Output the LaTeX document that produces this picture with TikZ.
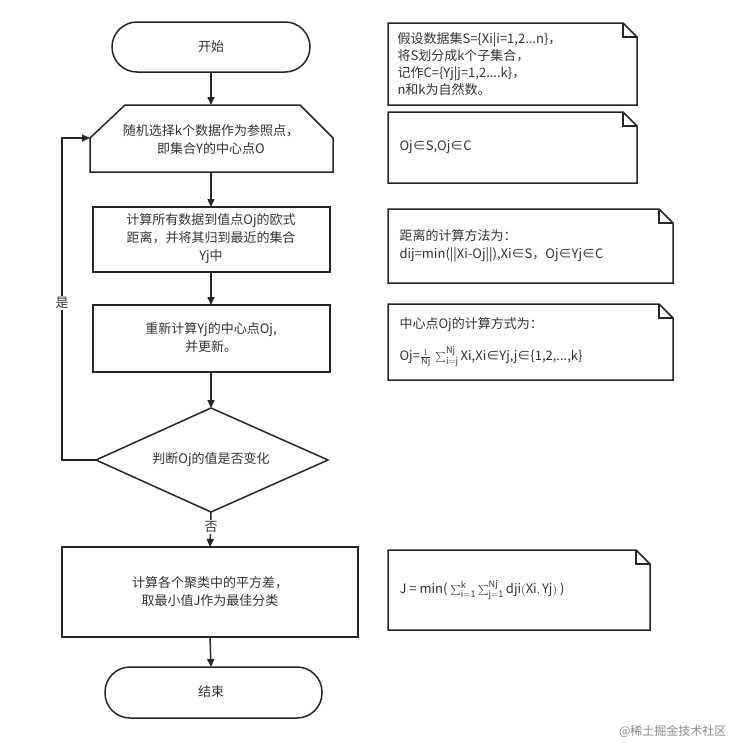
\documentclass[tikz,border=0pt]{standalone}
\usepackage{fontspec}
\setmainfont{Noto Sans CJK SC}
\usetikzlibrary{arrows.meta,calc}
\begin{document}
\begin{tikzpicture}[x=1pt,y=-1pt,
 ln/.style={draw=black!85,line width=1.5pt},
 arr/.style={ln,-{Triangle[length=8pt,width=7pt]}},
 txt/.style={font=\fontsize{13}{18}\selectfont,align=center,text=black!80},
 ntxt/.style={font=\fontsize{13}{18}\selectfont,align=left,anchor=west,text=black!80}]
\useasboundingbox[fill=white] (0,0) rectangle (735,745);
\newcommand\note[5]{% x1 y1 x2 y2 name
 \draw[ln,fill=white] (#1,#2) -- ({#3-14},#2) -- (#3,{#2+14}) -- (#3,#4) -- (#1,#4) -- cycle;
 \draw[ln] ({#3-14},#2) -- ({#3-14},{#2+14}) -- (#3,{#2+14});
 \coordinate (#5) at (#1,{(#2+#4)/2});}
% start
\draw[ln,rounded corners=25pt] (112,22) rectangle (310,72);
\node[txt] (start) at (211,47) {开始};
\coordinate (startb) at (211,72);
% step1
\draw[ln] (90,138) -- (125,105) -- (300,105) -- (333,138) -- (333,172) -- (90,172) -- cycle;
\node[txt] (s1) at (211,140) {随机选择k个数据作为参照点，\\即集合Y的中心点O};
\coordinate (s1t) at (211,105); \coordinate (s1b) at (211,172); \coordinate (s1l) at (90,138);
% step2
\draw[ln] (93,207) rectangle (330,272);
\node[txt] (s2) at (211,239) {计算所有数据到值点Oj的欧式\\距离，并将其归到最近的集合\\Yj中};
\coordinate (s2t) at (211,207); \coordinate (s2b) at (211,272);
% step3
\draw[ln] (93,305) rectangle (330,372);
\node[txt] (s3) at (211,338) {重新计算Yj的中心点Oj,\\并更新。};
\coordinate (s3t) at (211,305); \coordinate (s3b) at (211,372);
% diamond
\draw[ln] (211,408) -- (328,460) -- (211,512) -- (96,460) -- cycle;
\node[txt] (d) at (211,460) {判断Oj的值是否变化};
\coordinate (dt) at (211,408); \coordinate (db) at (211,512); \coordinate (dl) at (96,460);
% step4
\draw[ln] (62,547) rectangle (358,637);
\node[txt] (s4) at (210,592) {计算各个聚类中的平方差，\\取最小值J作为最佳分类};
\coordinate (s4t) at (210,547); \coordinate (s4b) at (210,637);
% end
\draw[ln,rounded corners=25pt] (105,667) rectangle (322,718);
\node[txt] (end) at (211,692) {结束};
\coordinate (endt) at (211,667);
% arrows
\draw[arr] (startb) -- (s1t);
\draw[arr] (s1b) -- (s2t);
\draw[arr] (s2b) -- (s3t);
\draw[arr] (s3b) -- (dt);
\draw[arr] (db) -- (s4t);
\draw[arr] (s4b) -- (endt);
\coordinate (c1) at (62,460); \coordinate (c2) at (62,138);
\draw[arr] (dl) -- (c1) -- (c2) -- (s1l);
\node[txt,fill=white,inner sep=1pt] (yes) at (62,303) {是};
\node[txt,fill=white,inner sep=1pt] (no) at (211,527) {否};
% notes
\note{388}{23}{637}{105}{n1}
\node[ntxt,font=\fontsize{13}{17}\selectfont] (t1) at ($(n1)+(6,0)$) {假设数据集S=\{Xi|i=1,2...n\}，\\将S划分成k个子集合，\\记作C=\{Yj|j=1,2....k\}，\\n和k为自然数。};
\note{388}{112}{637}{183}{n2}
\node[ntxt] (t2) at ($(n2)+(8,0)$) {Oj∈S,Oj∈C};
\note{388}{209}{673}{283}{n3}
\node[ntxt] (t3) at ($(n3)+(8,0)$) {距离的计算方法为：\\dij=min(||Xi-Oj||),Xi∈S，Oj∈Yj∈C};
\note{388}{304}{673}{380}{n4}
\node[ntxt] (t4a) at (396,325) {中心点Oj的计算方式为：};
\node[ntxt] (t4b) at (396,357) {Oj=$\frac{1}{\mathrm{Nj}}\,\sum_{\mathrm{i=j}}^{\mathrm{Nj}}\mathrm{Xi}$,Xi∈Yj,j∈\{1,2,...,k\}};
\note{388}{550}{650}{630}{n5}
\node[ntxt] (t5) at ($(n5)+(8,0)$) {J = min( $\sum_{\mathrm{i=1}}^{\mathrm{k}}\sum_{\mathrm{j=1}}^{\mathrm{Nj}}\mathrm{dji(Xi,Yj)}$ )};
\node[font=\fontsize{12}{14}\selectfont,text=black!45,anchor=east] (wm) at (730,731) {@稀土掘金技术社区};
\end{tikzpicture}
\end{document}
